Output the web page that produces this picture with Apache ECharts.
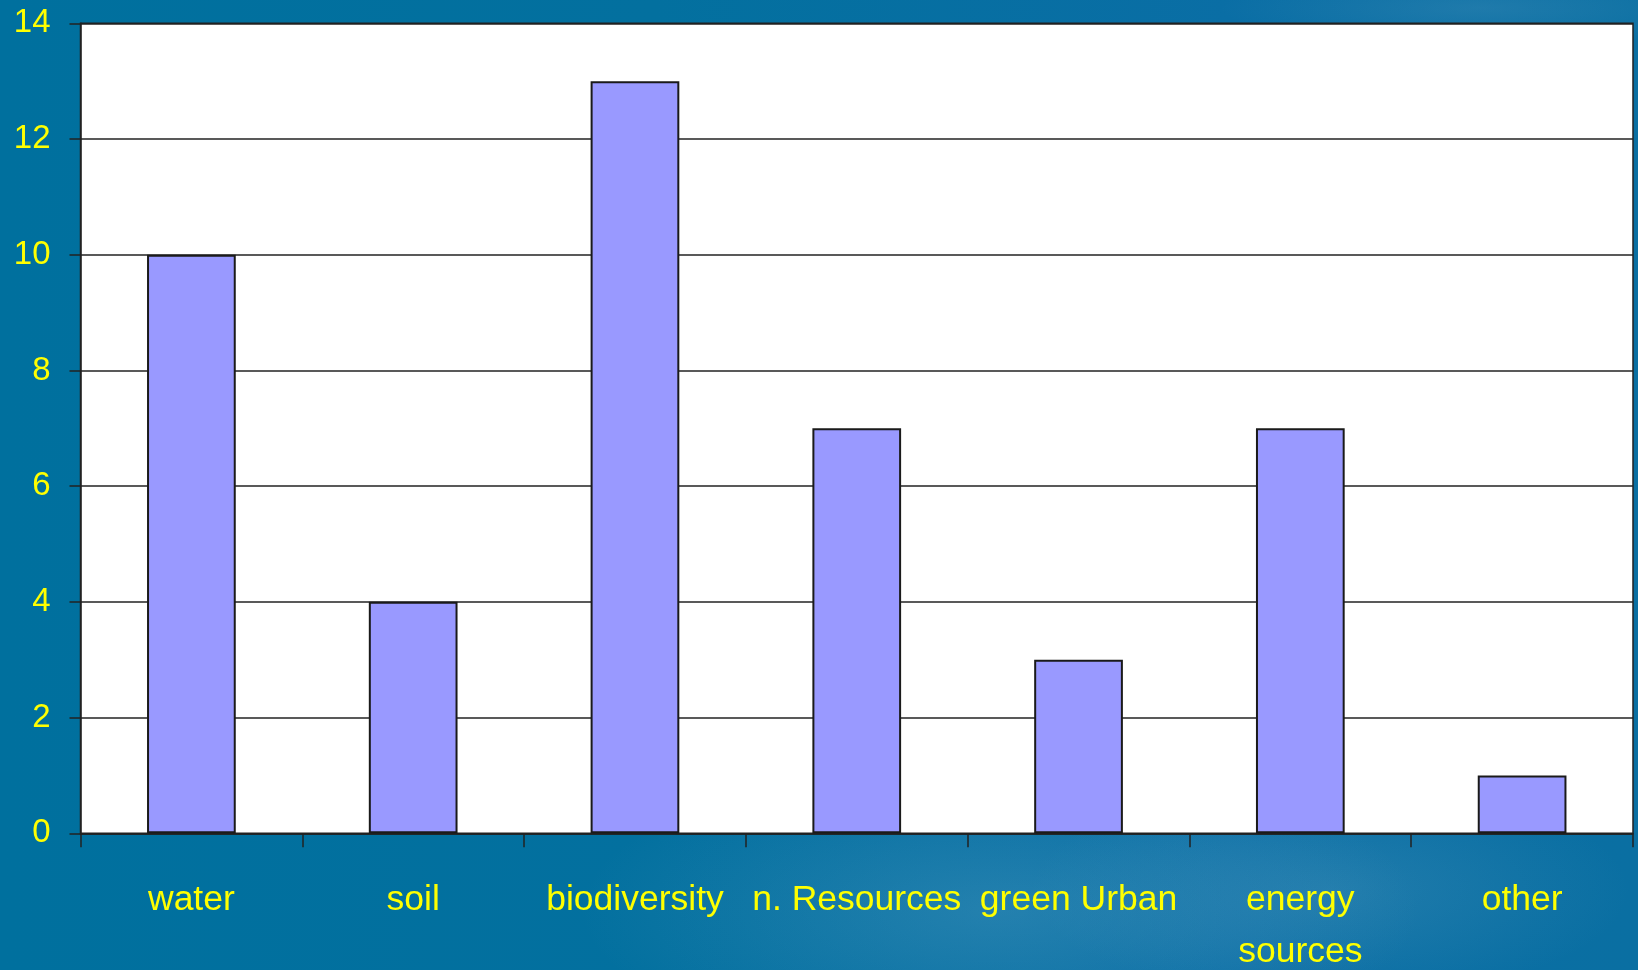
<!DOCTYPE html>
<html>
<head>
<meta charset="utf-8">
<script src="https://cdn.jsdelivr.net/npm/echarts@6/dist/echarts.min.js"></script>
<style>
html,body{margin:0;padding:0;width:1638px;height:970px;overflow:hidden;}
#bg{position:absolute;left:0;top:0;width:1638px;height:970px;
background:
 radial-gradient(ellipse 420px 150px at 1000px 910px, rgba(110,175,205,0.28), rgba(110,175,205,0) 100%),
 radial-gradient(ellipse 300px 110px at 1330px 890px, rgba(100,165,195,0.25), rgba(100,165,195,0) 100%),
 radial-gradient(ellipse 260px 40px at 1480px 8px, rgba(80,150,190,0.30), rgba(80,150,190,0) 100%),
 linear-gradient(90deg, #00709e 0%, #03709f 40%, #0a6ea5 75%, #0a6fa2 100%);}
#chart{position:absolute;left:0;top:0;width:1638px;height:970px;}
</style>
</head>
<body>
<div id="bg"></div>
<div id="chart"></div>
<script>
const categories = ['water', 'soil', 'biodiversity', 'n. Resources', 'green Urban', 'energy\nsources', 'other'];
const values = [10, 4, 13, 7, 3, 7, 1];
const yTicks = [0, 2, 4, 6, 8, 10, 12, 14];

const chart = echarts.init(document.getElementById('chart'));
const font = "'Liberation Sans', Arial, sans-serif";
chart.setOption({
  backgroundColor: 'transparent',
  animation: false,
  grid: {
    left: 80.5, right: 5, top: 23.3, bottom: 136.7,
    outerBoundsMode: 'none', containLabel: false,
    show: true, backgroundColor: '#ffffff', borderColor: '#222222', borderWidth: 1.5
  },
  xAxis: {
    type: 'category',
    data: categories,
    axisLine: { show: true, lineStyle: { color: '#222222', width: 1.5 } },
    axisTick: { show: true, length: 14, lineStyle: { color: '#222222', width: 1.5 } },
    axisLabel: {
      color: '#ffff00', fontFamily: font, fontSize: 35.5, margin: 41, lineHeight: 52, interval: 0
    },
    splitLine: { show: false }
  },
  yAxis: {
    type: 'value',
    min: yTicks[0], max: yTicks[yTicks.length - 1], interval: 2,
    axisLine: { show: true, lineStyle: { color: '#222222', width: 1.5 } },
    axisTick: { show: true, length: 11, lineStyle: { color: '#222222', width: 1.5 } },
    axisLabel: { color: '#ffff00', fontFamily: font, fontSize: 33, margin: 30 },
    splitLine: { show: true, lineStyle: { color: '#222222', width: 1.5 } }
  },
  series: [{
    type: 'bar',
    data: values,
    barWidth: '40%',
    itemStyle: { color: '#9999ff', borderColor: '#1a1a1a', borderWidth: 2 }
  }]
});
</script>
</body>
</html>
